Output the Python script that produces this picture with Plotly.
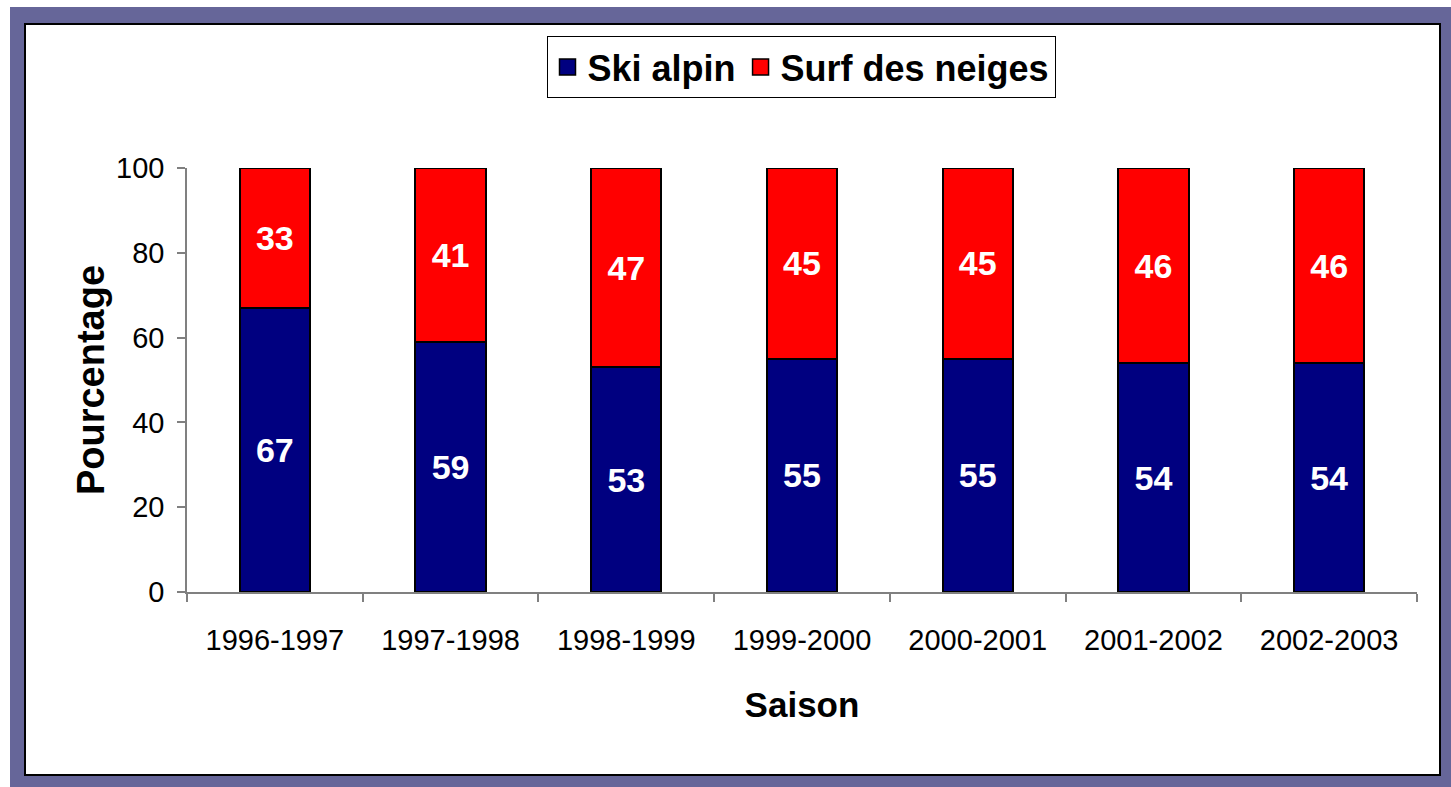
import plotly.graph_objects as go

saisons = ["1996-1997", "1997-1998", "1998-1999", "1999-2000", "2000-2001", "2001-2002", "2002-2003"]
ski_alpin = [67, 59, 53, 55, 55, 54, 54]
surf_neiges = [33, 41, 47, 45, 45, 46, 46]
y_ticks = [0, 20, 40, 60, 80, 100]

W, H = 1451, 787
L, R, T, B = 187, 34, 168, 195
PW, PH = W - L - R, H - T - B

def px(x):
    return (x - L) / PW

def py(y):
    return (H - B - y) / PH

FONT = "Liberation Sans, Arial, sans-serif"
NAVY = "#000080"
RED = "#FF0000"

fig = go.Figure()
fig.add_trace(go.Bar(
    x=saisons, y=ski_alpin, name="Ski alpin", showlegend=False,
    marker=dict(color=NAVY, line=dict(color="black", width=2)),
    text=ski_alpin, textposition="inside", insidetextanchor="middle",
    textfont=dict(family=FONT, size=34, color="white", weight="bold"),
    constraintext="none",
))
fig.add_trace(go.Bar(
    x=saisons, y=surf_neiges, name="Surf des neiges", showlegend=False,
    marker=dict(color=RED, line=dict(color="black", width=2)),
    text=surf_neiges, textposition="inside", insidetextanchor="middle",
    textfont=dict(family=FONT, size=34, color="white", weight="bold"),
    constraintext="none",
))
for name, col in [("Ski alpin", NAVY), ("Surf des neiges", RED)]:
    fig.add_trace(go.Scatter(
        x=[None], y=[None], mode="markers", name=name,
        marker=dict(symbol="square", size=16, color=col, line=dict(color="black", width=1.5)),
    ))

fig.update_layout(
    width=W, height=H,
    margin=dict(l=L, r=R, t=T, b=B),
    barmode="stack", bargap=0.6,
    paper_bgcolor="white", plot_bgcolor="white",
    font=dict(family=FONT, color="black"),
    uniformtext=dict(mode=False),
    legend=dict(
        orientation="h", x=px(801), y=py(67), xanchor="center", yanchor="middle",
        traceorder="normal",
        bgcolor="white", bordercolor="black", borderwidth=1,
        font=dict(family=FONT, size=36, color="black", weight="bold"),
        itemwidth=30,
    ),
    xaxis=dict(
        type="category", showline=True, linecolor="#808080", linewidth=1.5,
        ticks="outside", tickson="boundaries", ticklen=8, tickcolor="#808080", tickwidth=1.5,
        tickfont=dict(family=FONT, size=29, color="black"),
        ticklabelstandoff=21,
        title=dict(text="Saison", font=dict(family=FONT, size=35, color="black", weight="bold"), standoff=38),
        showgrid=False,
    ),
    yaxis=dict(
        range=[0, 100], tickvals=y_ticks, showline=True, linecolor="#808080", linewidth=1.5,
        ticks="outside", ticklen=8, tickcolor="#808080", tickwidth=1.5,
        tickfont=dict(family=FONT, size=29, color="black"),
        ticklabelstandoff=7,
        title=dict(text="Pourcentage", font=dict(family=FONT, size=38, color="black", weight="bold"), standoff=0),
        showgrid=False, zeroline=False,
    ),
    shapes=[
        dict(type="rect", xref="paper", yref="paper", layer="below",
             x0=px(10), x1=px(W), y0=py(H), y1=py(7),
             fillcolor="#666699", line=dict(width=0)),
        dict(type="rect", xref="paper", yref="paper", layer="below",
             x0=px(25), x1=px(1440), y0=py(775), y1=py(24),
             fillcolor="white", line=dict(color="black", width=2)),
    ],
)

fig.write_html(
    "out.html",
    config={"displayModeBar": False},
    post_script="document.body.style.margin='0';document.body.style.overflow='hidden';",
)
